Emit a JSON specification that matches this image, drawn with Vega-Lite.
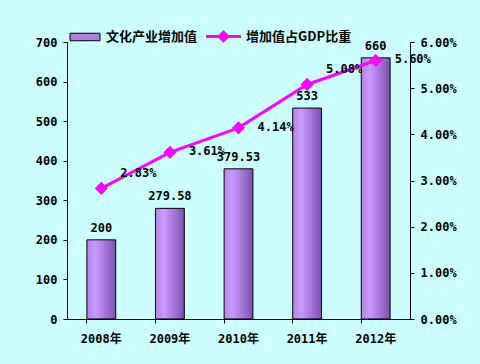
{
  "$schema": "https://vega.github.io/schema/vega-lite/v6.json",
  "width": 343,
  "height": 277,
  "autosize": {"type": "none"},
  "padding": {"left": 67, "top": 42, "right": 70, "bottom": 45},
  "background": "#ccffff",
  "config": {
    "view": {"stroke": null},
    "font": "DejaVu Sans Mono",
    "axis": {"labelFont": "DejaVu Sans Mono, Noto Sans CJK SC", "labelFontWeight": "bold", "labelFontSize": 12, "labelColor": "black", "domainColor": "black", "tickColor": "black", "grid": false, "title": null, "labelOverlap": false}
  },
  "data": {"values": [
    {"year": "2008年", "value": 200, "ratio": 0.0283, "s1": "文化产业增加值", "s2": "增加值占GDP比重"},
    {"year": "2009年", "value": 279.58, "ratio": 0.0361, "s1": "文化产业增加值", "s2": "增加值占GDP比重"},
    {"year": "2010年", "value": 379.53, "ratio": 0.0414, "s1": "文化产业增加值", "s2": "增加值占GDP比重"},
    {"year": "2011年", "value": 533, "ratio": 0.0508, "s1": "文化产业增加值", "s2": "增加值占GDP比重"},
    {"year": "2012年", "value": 660, "ratio": 0.056, "s1": "文化产业增加值", "s2": "增加值占GDP比重"}
  ]},
  "encoding": {
    "x": {"field": "year", "type": "nominal", "scale": {"paddingInner": 0.58, "paddingOuter": 0.29},
      "axis": {"labelAngle": 0, "labelPadding": 10, "bandPosition": 0, "tickSize": 4, "labelFontSize": 12}}
  },
  "layer": [
    {
      "encoding": {
        "y": {"field": "value", "type": "quantitative", "scale": {"domain": [0, 700]},
          "axis": {"values": [0, 100, 200, 300, 400, 500, 600, 700], "tickSize": 4, "labelPadding": 6, "labelOverlap": false}}
      },
      "layer": [
        {
          "mark": {"type": "bar", "stroke": "black", "strokeWidth": 1,
            "fill": {"x1": 0, "y1": 0, "x2": 1, "y2": 0, "gradient": "linear",
              "stops": [{"offset": 0, "color": "#b585e8"}, {"offset": 0.3, "color": "#cc99ff"}, {"offset": 1, "color": "#7c4fae"}]}},
          "encoding": {
            "color": {"field": "s1", "type": "nominal", "scale": {"range": ["#b07ee0"]},
              "legend": {"orient": "none", "legendX": 8, "legendY": -15, "title": null,
                "symbolType": "M-1.6,-0.4H1.6V0.4H-1.6Z", "symbolSize": 352, "symbolStrokeColor": "black", "symbolStrokeWidth": 1, "labelOffset": 11,
                "labelFont": "Noto Sans CJK SC", "labelFontWeight": "bold", "labelFontSize": 13, "labelColor": "black"}}
          }
        },
        {
          "mark": {"type": "text", "baseline": "bottom", "dy": -5, "font": "DejaVu Sans Mono", "fontWeight": "bold", "fontSize": 12, "color": "black"},
          "encoding": {
            "text": {"field": "value", "type": "quantitative"}
          }
        }
      ]
    },
    {
      "encoding": {
        "y": {"field": "ratio", "type": "quantitative", "scale": {"domain": [0, 0.06]},
          "axis": {"orient": "right", "format": ".2%", "values": [0, 0.01, 0.02, 0.03, 0.04, 0.05, 0.06], "tickSize": 4, "labelPadding": 6, "labelOverlap": false}}
      },
      "layer": [
        {
          "mark": {"type": "line", "color": "#ff00ff", "strokeWidth": 3, "point": {"shape": "diamond", "size": 110, "filled": true, "color": "#ff00ff"}},
          "encoding": {
            "stroke": {"field": "s2", "type": "nominal", "scale": {"range": ["#ff00ff"]},
              "legend": {"orient": "none", "legendX": 140, "legendY": -22, "title": null,
                "symbolType": "M-1.2,0H1.2M-0.3,0L0,-0.3L0.3,0L0,0.3Z", "symbolSize": 850, "symbolStrokeWidth": 3, "symbolFillColor": "#ff00ff", "labelOffset": 6,
                "labelFont": "Noto Sans CJK SC", "labelFontWeight": "bold", "labelFontSize": 13, "labelColor": "black"}}
          }
        },
        {
          "transform": [{"filter": "datum.year == '2008年' || datum.year == '2011年'"}],
          "mark": {"type": "text", "align": "left", "baseline": "middle", "dx": 19, "dy": -15, "font": "DejaVu Sans Mono", "fontWeight": "bold", "fontSize": 12, "color": "black"},
          "encoding": {
            "text": {"field": "ratio", "type": "quantitative", "format": ".2%"}
          }
        },
        {
          "transform": [{"filter": "datum.year != '2008年' && datum.year != '2011年'"}],
          "mark": {"type": "text", "align": "left", "baseline": "middle", "dx": 19, "dy": -1, "font": "DejaVu Sans Mono", "fontWeight": "bold", "fontSize": 12, "color": "black"},
          "encoding": {
            "text": {"field": "ratio", "type": "quantitative", "format": ".2%"}
          }
        }
      ]
    }
  ],
  "resolve": {"scale": {"y": "independent"}, "legend": {"color": "independent", "stroke": "independent"}}
}
